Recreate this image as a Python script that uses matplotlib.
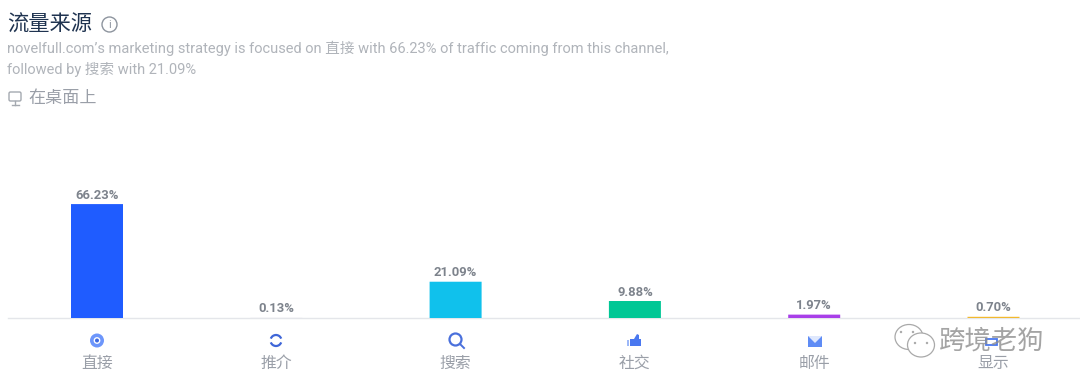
import matplotlib
matplotlib.use("Agg")
import matplotlib.pyplot as plt
from matplotlib.patches import Circle, Rectangle, Ellipse, Polygon, FancyBboxPatch, Arc
from matplotlib.lines import Line2D

plt.rcParams['font.family'] = ['Roboto', 'Noto Sans CJK SC', 'DejaVu Sans']

categories = ['直接', '推介', '搜索', '社交', '邮件', '显示']
values = [66.23, 0.13, 21.09, 9.88, 1.97, 0.70]
labels = ['66.23%', '0.13%', '21.09%', '9.88%', '1.97%', '0.70%']
colors = ['#1f5cff', '#e8e8f0', '#10c1ec', '#00c795', '#a83fe8', '#f2b92e']

W, H = 1080, 388
fig = plt.figure(figsize=(W / 100, H / 100), dpi=100, facecolor='white')

# overlay in pixel coordinates for the page furniture
ov = fig.add_axes([0, 0, 1, 1])
ov.set_xlim(0, W)
ov.set_ylim(H, 0)
ov.axis('off')

# bar axes: baseline at y=318, 1.72 px per percent
base_y, px_per = 318, 1.72
top_y = 120
ax = fig.add_axes([8 / W, (H - base_y) / H, (W - 8) / W, (base_y - top_y) / H])
ax.patch.set_alpha(0)
step = 179.3
ax.set_xlim((8 - 97) / step, (W - 97) / step)
ax.set_ylim(0, (base_y - top_y) / px_per)
for s in ['top', 'left', 'right']:
    ax.spines[s].set_visible(False)
ax.spines['bottom'].set_color('#e4e6ea')
ax.spines['bottom'].set_linewidth(1)
ax.spines['bottom'].set_zorder(1)
ax.set_yticks([])
xs = list(range(len(values)))
ax.set_xticks(xs)
ax.set_xticklabels(categories, fontsize=11.4, color='#9a9fa8')
ax.tick_params(axis='x', length=0, pad=27.5)
bars = ax.bar(xs, values, width=52 / step, color=colors, zorder=3, clip_on=False)
for b in bars:
    b.set_snap(False)
for x, v, l in zip(xs, values, labels):
    ax.annotate(l, (x, v), xytext=(0, 1.8), textcoords='offset points', ha='center', va='bottom',
                fontsize=9.4, fontweight='bold', color='#7d838c', zorder=4)

# header text
ov.text(7, 25, '流量来源', fontsize=15.3, color='#1f3350', va='center', ha='left')
ov.add_patch(Circle((109.5, 24.5), 7.5, fill=False, ec='#8d949e', lw=1))
ov.text(109.5, 24.5, 'i', fontsize=8, color='#8d949e', ha='center', va='center')
ov.text(7, 48.5, 'novelfull.com’s marketing strategy is focused on 直接 with 66.23% of traffic coming from this channel,',
        fontsize=10.5, color='#b0b4ba', va='center', ha='left')
ov.text(7, 69.5, 'followed by 搜索 with 21.09%', fontsize=10.5, color='#b0b4ba', va='center', ha='left')
ov.text(28, 98, '在桌面上', fontsize=12.3, color='#9a9fa8', va='center', ha='left')
ov.add_patch(FancyBboxPatch((9, 92), 12, 9, boxstyle='round,pad=0,rounding_size=1.5', fill=False, ec='#a4a9b0', lw=1))
ov.add_line(Line2D([11.5, 18.5], [105, 105], color='#a4a9b0', lw=1))
ov.add_line(Line2D([15, 15], [101, 105], color='#a4a9b0', lw=1))

# channel icons
ic = '#4a78f0'
ov.add_patch(Circle((97, 340.5), 7, fc='#6d96fb', ec='none'))
ov.add_patch(Circle((97, 340.5), 3.4, fc='white', ec='none'))
ov.add_patch(Circle((97, 340.5), 2, fc='#3d68e0', ec='none'))

ov.add_patch(Arc((276, 340.5), 11, 11, theta1=200, theta2=340, ec='#3f66d8', lw=1.6))
ov.add_patch(Arc((276, 340.5), 11, 11, theta1=20, theta2=160, ec='#3f66d8', lw=1.6))

ov.add_patch(Circle((455.5, 339.5), 6, fill=False, ec='#4a70dc', lw=1.6))
ov.add_line(Line2D([460, 464], [344, 348], color='#4a70dc', lw=1.4))

ov.add_patch(Polygon([[630, 339], [634, 339], [637, 334], [639, 335], [639, 339], [641, 339], [641, 346], [630, 346]],
                     closed=True, fc=ic, ec='none'))
ov.add_patch(Rectangle((627, 340), 2, 6, fc='#9db8f8', ec='none'))

ov.add_patch(Rectangle((808, 336), 14, 11, fc='#5f8cf5', ec='none'))
ov.add_patch(Polygon([[808, 336], [822, 336], [815, 343]], closed=True, fc='#dfe8fd', ec='none'))

ov.add_patch(Rectangle((986, 339), 11, 6, fill=False, ec=ic, lw=1.3, zorder=3))

# watermark
wm = '#a9a9a9'
ov.add_patch(Ellipse((909, 337), 28, 25, fc='white', ec=wm, lw=0.9, zorder=4))
ov.add_patch(Ellipse((921, 345), 27, 24, fc='white', ec=wm, lw=0.9, zorder=5))
for cx, cy in [(901, 332), (913, 332), (915, 343), (927, 343)]:
    ov.add_patch(Circle((cx, cy), 1.2, fc=wm, ec='none', zorder=6))
ov.text(992, 341, '跨境老狗', fontsize=19, color='#8e8e8e', ha='center', va='center', zorder=6, alpha=0.8)

fig.savefig('out.png', dpi=100, facecolor='white')
